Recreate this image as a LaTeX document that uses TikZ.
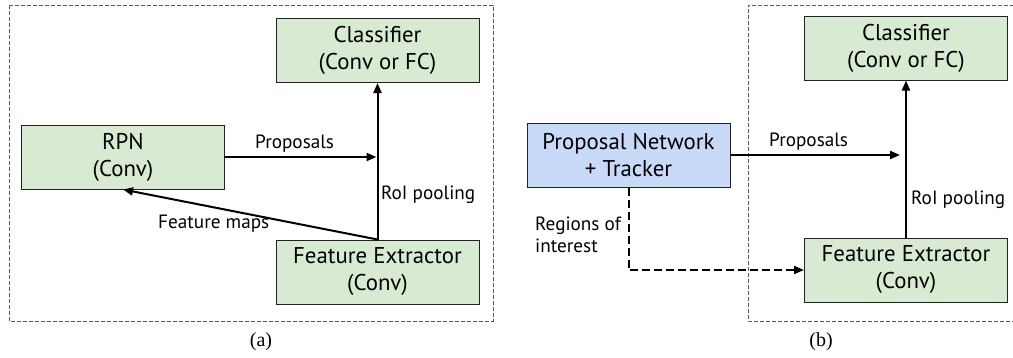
\documentclass[tikz,border=0pt]{standalone}
\usepackage{fontspec}
\setmainfont{PT Sans}
\newfontfamily\capfont{Liberation Serif}
\usetikzlibrary{arrows.meta,calc}
\definecolor{boxgreen}{HTML}{D9EAD3}
\definecolor{boxblue}{HTML}{C9DAF8}
\definecolor{edge}{HTML}{222222}
\tikzset{
  blk/.style={draw=edge, line width=1pt, minimum width=203pt, minimum height=64pt,
    inner sep=0pt, align=center, font=\fontsize{22.8}{27}\selectfont},
  greenblk/.style={blk, fill=boxgreen},
  blueblk/.style={blk, fill=boxblue},
  flow/.style={line width=2pt, -{Triangle[length=10pt,width=8pt]}},
  dflow/.style={flow, dash pattern=on 8pt off 4pt},
  lbl/.style={inner sep=0pt, font=\fontsize{19.2}{22}\selectfont},
  dframe/.style={draw=black!65, line width=0.8pt, dash pattern=on 4pt off 2pt},
  captxt/.style={inner sep=0pt, font=\capfont\fontsize{20}{24}\selectfont}
}
\begin{document}
\begin{tikzpicture}[x=1pt,y=-1pt]
\useasboundingbox (0,0) rectangle (1013,357);
% panel (a)
\draw[dframe] (9,5) rectangle (493,321);
\node[greenblk] (clsA) at (377.5,50.5) {Classifier\\(Conv or FC)};
\node[greenblk] (rpn) at (123,157) {RPN\\(Conv)};
\node[greenblk] (feA) at (377.5,272) {Feature Extractor\\(Conv)};
\draw[flow] (feA.north) -- (clsA.south);
\draw[flow, shorten >=1pt] (rpn.east) -- (rpn.east -| feA.north);
\draw[flow] (feA.north) -- (rpn.south);
\node[lbl, anchor=base west] (propA) at (255,148) {Proposals};
\node[lbl, anchor=base west] (roiA) at (381,199) {RoI pooling};
\node[lbl, anchor=base west] (fmA) at (158,228) {Feature maps};
\node[captxt, anchor=base] (capA) at (261,346) {(a)};
% panel (b)
\draw[dframe] (1014,5) -- (748,5) -- (748,321) -- (1014,321);
\node[greenblk] (clsB) at (906,48) {Classifier\\(Conv or FC)};
\node[blueblk] (pn) at (628.5,155) {Proposal Network\\+ Tracker};
\node[greenblk] (feB) at (906,270) {Feature Extractor\\(Conv)};
\draw[flow] (feB.north) -- (clsB.south);
\draw[flow, shorten >=6pt] (pn.east) -- (pn.east -| feB.north);
\draw[dflow] (pn.south) |- (feB.west);
\node[lbl, anchor=base west] (propB) at (769,146) {Proposals};
\node[lbl, anchor=base west] (roiB) at (911,204) {RoI pooling};
\node[lbl, anchor=north west, align=left] (roiText) at (535,217) {Regions of\\interest};
\node[captxt, anchor=base] (capB) at (821,346) {(b)};
\end{tikzpicture}
\end{document}
